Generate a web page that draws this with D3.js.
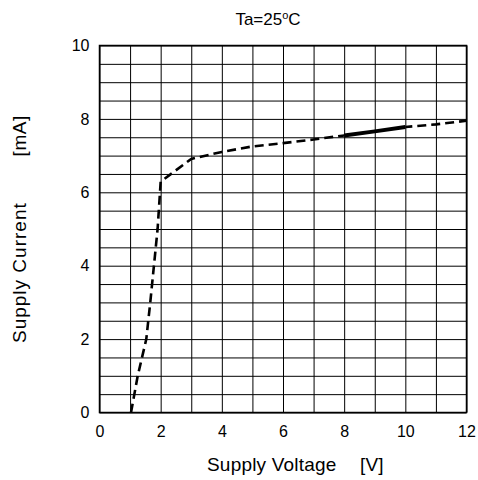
<!DOCTYPE html>
<html>
<head>
<meta charset="utf-8">
<script src="https://cdn.jsdelivr.net/npm/d3@7"></script>
<style>
  body { margin: 0; background: #fff; }
  text { font-family: "Liberation Sans", Arial, sans-serif; fill: #000; }
</style>
</head>
<body>
<svg id="chart" width="478" height="480"></svg>
<script>
// Data
const voltage = [1.03, 1.25, 1.53, 1.66, 1.78, 1.9, 2.0, 3, 4, 5, 6, 7, 8, 9, 10, 11, 12];
const current = [0, 1, 2, 3, 4, 5, 6.29, 6.91, 7.1, 7.25, 7.34, 7.44, 7.55, 7.66, 7.78, 7.85, 7.95];
const solidFrom = 8, solidTo = 10;   // part of the curve drawn solid
const xTicks = d3.range(0, 13, 1);
const yTicks = d3.range(0, 10.01, 0.5);
const titleText = "Ta=25";
const xLabel = "Supply Voltage", xUnit = "[V]";
const yLabel = "Supply Current", yUnit = "[mA]";

const svg = d3.select("#chart");
const m = { left: 99.5, right: 466.5, top: 45.5, bottom: 412.5 };

const x = d3.scaleLinear().domain([0, 12]).range([m.left, m.right]);
const y = d3.scaleLinear().domain([0, 10]).range([m.bottom, m.top]);

/* grid + axes */
const xAxis = d3.axisBottom(x)
    .tickValues(xTicks)
    .tickSize(-(m.bottom - m.top))
    .tickPadding(13)
    .tickFormat(d => d % 2 === 0 ? d : "");
const yAxis = d3.axisLeft(y)
    .tickValues(yTicks)
    .tickSize(-(m.right - m.left))
    .tickPadding(10)
    .tickFormat(d => (d % 2 === 0) ? d : "");

const gx = svg.append("g").attr("transform", `translate(0,${m.bottom})`).call(xAxis);
const gy = svg.append("g").attr("transform", `translate(${m.left},0)`).call(yAxis);
[gx, gy].forEach(g => {
    g.select(".domain").remove();
    g.selectAll(".tick line").attr("stroke", "#000").attr("stroke-width", 1);
    g.selectAll(".tick text").attr("font-size", 16).attr("font-family", '"Liberation Sans", Arial, sans-serif');
});

// frame
svg.append("rect")
    .attr("x", m.left).attr("y", m.top)
    .attr("width", m.right - m.left).attr("height", m.bottom - m.top)
    .attr("fill", "none").attr("stroke", "#000").attr("stroke-width", 1.5);

/* curve */
const pts = d3.zip(voltage, current);
const line = d3.line().x(d => x(d[0])).y(d => y(d[1]));

const partA = pts.filter(d => d[0] <= solidFrom);
const partB = pts.filter(d => d[0] >= solidFrom && d[0] <= solidTo);
const partC = pts.filter(d => d[0] >= solidTo);

svg.append("path").datum(partA).attr("d", line)
    .attr("fill", "none").attr("stroke", "#000").attr("stroke-width", 2.6)
    .attr("stroke-dasharray", "9,5");
svg.append("path").datum(partB).attr("d", line)
    .attr("fill", "none").attr("stroke", "#000").attr("stroke-width", 4);
svg.append("path").datum(partC).attr("d", line)
    .attr("fill", "none").attr("stroke", "#000").attr("stroke-width", 2.6)
    .attr("stroke-dasharray", "9,5").attr("stroke-dashoffset", 2);

/* texts */
const title = svg.append("text")
    .attr("x", 268).attr("y", 24.5)
    .attr("text-anchor", "middle").attr("font-size", 17);
title.append("tspan").text(titleText);
title.append("tspan").text("o").attr("font-size", 11).attr("dy", -6);
title.append("tspan").text("C").attr("dy", 6);

const xl = svg.append("g").attr("font-size", 19);
xl.append("text").attr("x", 207).attr("y", 470.5)
    .attr("letter-spacing", 0.2).text(xLabel);
xl.append("text").attr("x", 360).attr("y", 470.5)
    .attr("letter-spacing", 0.2).text(xUnit);

const yl = svg.append("g").attr("font-size", 19)
    .attr("transform", "translate(26,0) rotate(-90)");
yl.append("text").attr("x", -343).attr("y", 0)
    .attr("letter-spacing", 1).text(yLabel);
yl.append("text").attr("x", -115).attr("y", 0)
    .attr("text-anchor", "end")
    .attr("letter-spacing", 0.6).text(yUnit);
</script>
</body>
</html>
